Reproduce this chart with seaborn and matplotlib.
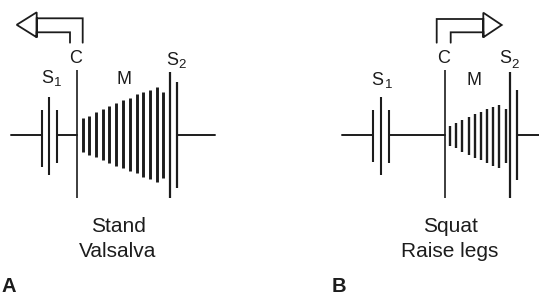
import pandas as pd
import matplotlib.pyplot as plt
import seaborn as sns

# panel A (stand / valsalva): x position, amplitude above / below baseline
s1_x_a = [41.7, 49.0, 57.0]
s1_up_a = [25, 38, 25]
s1_dn_a = [32, 40, 28]
c_x_a = 76.5
murmur_x_a = [82.7, 89.3, 96.0, 102.7, 109.3, 116.0, 123.3, 130.0, 136.7, 143.3, 150.0, 156.7, 163.3]
murmur_up_a = [17, 19.3, 23.3, 25.7, 29, 32.3, 35, 37.3, 40.7, 42.7, 45, 47.7, 42.7]
murmur_dn_a = [17, 20, 21.7, 25, 27.7, 31, 33.3, 36, 38.3, 41.7, 44, 46.7, 43.3]
s2_x_a = [169.5, 176.7]
s2_amp_a = [63.3, 53.3]

# panel B (squat / raise legs)
s1_x_b = [372.7, 381.0, 389.0]
s1_up_b = [25, 38, 25]
s1_dn_b = [27, 40, 28]
c_x_b = 445.0
murmur_x_b = [450.0, 456.0, 462.3, 468.7, 475.0, 481.0, 487.3, 493.3, 499.3, 506.0]
murmur_up_b = [9, 12.3, 15, 17.7, 20.7, 23.3, 25.7, 28.3, 30, 25.7]
murmur_dn_b = [11, 13.3, 16.7, 20, 22.7, 25, 28.3, 31, 33.3, 28.3]
s2_x_b = [510.0, 517.3]
s2_amp_b = [63.3, 45]

c_up, c_dn = 65, 63
titles_a = ['Stand', 'Valsalva']
titles_b = ['Squat', 'Raise legs']

sns.set_theme(style='white')
plt.rcParams['font.family'] = ['Liberation Sans', 'DejaVu Sans']
ink = '#1c1c1c'

fig = plt.figure(figsize=(5.39, 2.97), dpi=100)
ax = fig.add_axes([0, 0, 1, 1])

# baselines
base = pd.DataFrame({
    'x': [11, s1_x_a[0], s1_x_a[-1], c_x_a, s2_x_a[-1], 215,
          342, s1_x_b[0], s1_x_b[-1], c_x_b, s2_x_b[-1], 539],
    'y': [0] * 12,
    'seg': [0, 0, 1, 1, 2, 2, 3, 3, 4, 4, 5, 5],
})
sns.lineplot(data=base, x='x', y='y', units='seg', estimator=None,
             color=ink, linewidth=1.4, ax=ax, legend=False)


def panel(s1_x, s1_up, s1_dn, c_x, m_x, m_up, m_dn, s2_x, s2_amp, mlw):
    ax.vlines(s1_x, [-d for d in s1_dn], s1_up, color=ink, linewidth=1.5)
    ax.vlines(c_x, -c_dn, c_up, color=ink, linewidth=1.2)
    ax.vlines(m_x, [-d for d in m_dn], m_up, color=ink, linewidth=mlw)
    ax.vlines(s2_x, [-a for a in s2_amp], s2_amp, color=ink, linewidth=1.6)


panel(s1_x_a, s1_up_a, s1_dn_a, c_x_a, murmur_x_a, murmur_up_a, murmur_dn_a, s2_x_a, s2_amp_a, 2.1)
panel(s1_x_b, s1_up_b, s1_dn_b, c_x_b, murmur_x_b, murmur_up_b, murmur_dn_b, s2_x_b, s2_amp_b, 1.7)

# hollow bent arrows
arrow_a_x = [70, 70, 36.7, 36.7, 16.7, 36.7, 36.7, 36.7, 82.7, 82.7]
arrow_a_y = [92.3, 102.7, 102.7, 97.7, 110.2, 122.7, 97.7, 116.7, 116.7, 92.3]
ax.plot(arrow_a_x, arrow_a_y, color=ink, linewidth=1.3, solid_joinstyle='miter')
arrow_b_x = [450.7, 450.7, 483.3, 483.3, 501.7, 483.3, 483.3, 483.3, 436.7, 436.7]
arrow_b_y = [92.3, 102.7, 102.7, 97.7, 110.0, 122.3, 97.7, 116.0, 116.0, 92.3]
ax.plot(arrow_b_x, arrow_b_y, color=ink, linewidth=1.3, solid_joinstyle='miter')

# sound labels
lab = dict(color=ink, ha='center', va='baseline')
sub = dict(color=ink, ha='left', va='baseline', fontsize=9.5)
ax.text(47.5, 52, 'S', fontsize=13, **lab)
ax.text(54.0, 49.5, '1', **sub)
ax.text(76, 72, 'C', fontsize=13, **lab)
ax.text(123.5, 51, 'M', fontsize=13, **lab)
ax.text(172, 70, 'S', fontsize=13, **lab)
ax.text(178.5, 67.5, '2', **sub)

ax.text(377.5, 50, 'S', fontsize=13, **lab)
ax.text(384.5, 47, '1', **sub)
ax.text(443.5, 72, 'C', fontsize=13, **lab)
ax.text(473.5, 50, 'M', fontsize=13, **lab)
ax.text(505, 72, 'S', fontsize=13, **lab)
ax.text(511.5, 67.5, '2', **sub)

# captions
for i, t in enumerate(titles_a):
    ax.text(118, -97 - 25 * i, t, fontsize=15, **lab)
for i, t in enumerate(titles_b):
    ax.text(450, -97 - 25 * i, t, fontsize=15, **lab)

ax.text(1, -157, 'A', fontsize=14.5, fontweight='bold', color=ink, ha='left', va='baseline')
ax.text(332, -157, 'B', fontsize=14.5, fontweight='bold', color=ink, ha='left', va='baseline')

ax.set_xlim(0, 539)
ax.set_ylim(-162, 135)
ax.axis('off')

fig.savefig('out.png', dpi=100)
